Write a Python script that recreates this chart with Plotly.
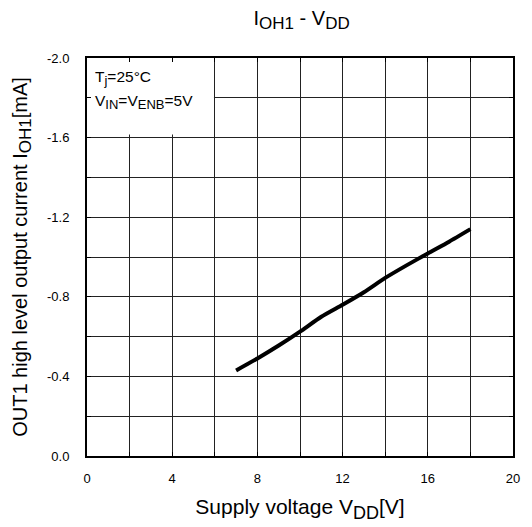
import plotly.graph_objects as go

# Supply voltage V_DD [V] and OUT1 high level output current I_OH1 [mA]
vdd = [7, 8, 9, 10, 11, 12, 13, 14, 15, 16, 17, 18]
ioh1 = [-0.43, -0.49, -0.555, -0.625, -0.70, -0.76, -0.823, -0.895, -0.958, -1.018, -1.077, -1.14]

x_ticks = [0, 4, 8, 12, 16, 20]
y_ticks = [0.0, -0.4, -0.8, -1.2, -1.6, -2.0]
y_labels = ["0.0", "-0.4", "-0.8", "-1.2", "-1.6", "-2.0"]

font = "Liberation Sans, Arial, sans-serif"


def sub(txt, px):
    """Subscript with an explicit size (larger than Plotly's default 70%)."""
    return f"<sub><span style='font-size:{px}px'>{txt}</span></sub>"


fig = go.Figure()
fig.add_trace(go.Scatter(
    x=vdd, y=ioh1, mode="lines",
    line=dict(color="black", width=4, shape="spline", smoothing=0.6),
    showlegend=False, hoverinfo="skip",
))

# white panel behind the condition notes (covers grid, not the frame)
fig.add_shape(type="rect", xref="x", yref="y", x0=0, x1=5.96, y0=-2.0, y1=-1.615,
              fillcolor="white", line=dict(width=0), layer="between")

fig.add_annotation(x=0.3, y=-1.9, xref="x", yref="y", xanchor="left", yanchor="middle",
                   text="T" + sub("j", 13) + "=25°C", showarrow=False,
                   font=dict(family=font, size=15.5, color="black"))
fig.add_annotation(x=0.3, y=-1.78, xref="x", yref="y", xanchor="left", yanchor="middle",
                   text="V" + sub("IN", 13) + "=V" + sub("ENB", 13) + "=5V", showarrow=False,
                   font=dict(family=font, size=15.5, color="black"))

fig.update_layout(
    width=532, height=527,
    margin=dict(l=87, r=14, t=58, b=70),
    paper_bgcolor="white", plot_bgcolor="white",
    font=dict(family=font, color="black"),
    title=dict(text="I" + sub("OH1", 17) + " - V" + sub("DD", 17), x=0.567, xanchor="center",
               y=0.966, yanchor="middle", font=dict(size=20, family=font)),
)

fig.update_xaxes(
    range=[0, 20], tickvals=x_ticks, ticks="inside", ticklen=4, tickcolor="black",
    showline=True, linecolor="black", linewidth=2, mirror="ticks",
    showgrid=True, gridcolor="#222", gridwidth=1,
    minor=dict(dtick=2, showgrid=True, gridcolor="#222", gridwidth=1,
               ticks="inside", ticklen=4, tickcolor="black"),
    tickfont=dict(size=13, family=font), ticklabelstandoff=9,
    title=dict(text="Supply voltage V" + sub("DD", 18) + "[V]",
               font=dict(size=21, family=font), standoff=15),
    zeroline=False,
)
fig.update_yaxes(
    range=[0, -2.0], tickvals=y_ticks, ticktext=y_labels, ticks="inside", ticklen=4,
    tickcolor="black",
    showline=True, linecolor="black", linewidth=2, mirror="ticks",
    showgrid=True, gridcolor="#222", gridwidth=1,
    minor=dict(dtick=0.2, showgrid=True, gridcolor="#222", gridwidth=1,
               ticks="inside", ticklen=4, tickcolor="black"),
    tickfont=dict(size=13, family=font), ticklabelstandoff=13,
    title=dict(text="OUT1 high level output current I" + sub("OH1", 17) + "[mA]",
               font=dict(size=20, family=font), standoff=14),
    zeroline=False,
)

fig.write_html("out.html")
